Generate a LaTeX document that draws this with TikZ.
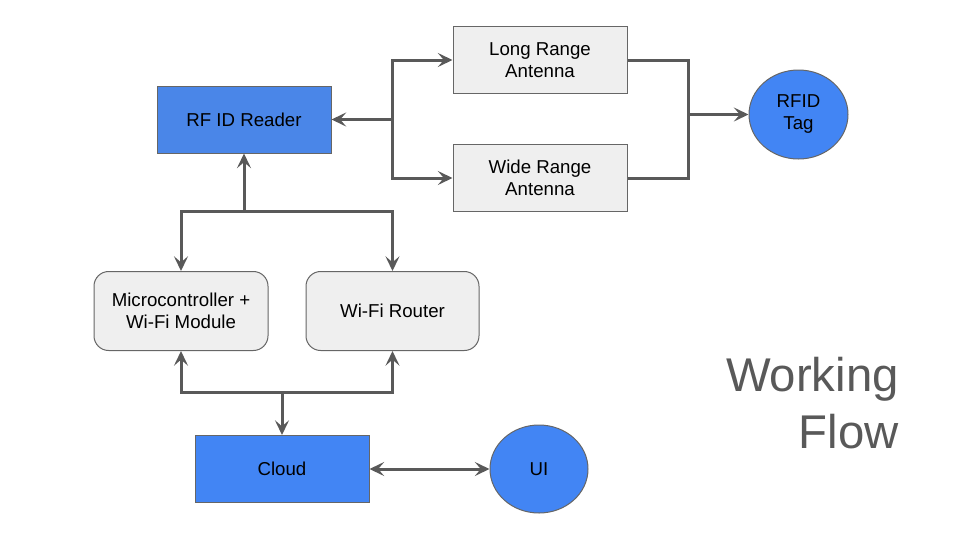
\documentclass[tikz,border=0pt]{standalone}
\usepackage{fontspec}
\setmainfont{Liberation Sans}
\usetikzlibrary{arrows.meta,shapes.geometric}
\definecolor{lineg}{HTML}{595959}
\definecolor{blueA}{HTML}{4A86E8}
\definecolor{blueB}{HTML}{4285F4}
\definecolor{lightg}{HTML}{EFEFEF}
\definecolor{edgeg}{HTML}{666666}
\tikzset{
  box/.style={draw=edgeg, line width=0.75pt, minimum width=130.5pt, minimum height=50.25pt, align=center, font=\fontsize{14}{16.5}\selectfont, inner sep=0pt},
  bluebox/.style={box, fill=blueA},
  greybox/.style={box, fill=lightg},
  roundbox/.style={box, fill=lightg, rounded corners=11pt, minimum height=59.25pt},
  blob/.style={ellipse, draw=edgeg, line width=0.75pt, fill=blueB, align=center, font=\fontsize{14}{16.5}\selectfont, inner sep=0pt},
  wire/.style={draw=lineg, line width=2.25pt},
  conn/.style={wire, -{Stealth[length=11pt, width=10.5pt, inset=4.5pt]}},
  conn2/.style={wire, {Stealth[length=11pt, width=10.5pt, inset=4.5pt]}-{Stealth[length=11pt, width=10.5pt, inset=4.5pt]}},
}
\begin{document}
\begin{tikzpicture}[x=0.75pt,y=-0.75pt]
\useasboundingbox (0,0) rectangle (960,540);
\node[bluebox] (reader) at (244,119.5) {RF ID Reader};
\node[greybox] (long) at (540,60) {Long Range\\Antenna};
\node[greybox] (wide) at (540,178) {Wide Range\\Antenna};
\node[blob, minimum width=74.25pt, minimum height=66.75pt] (tag) at (798.5,114.5) {RFID\\Tag};
\node[roundbox] (micro) at (181,311) {Microcontroller +\\Wi-Fi Module};
\node[roundbox, minimum width=129.75pt] (router) at (392.5,311) {Wi-Fi Router};
\node[box, fill=blueB] (cloud) at (282,469) {Cloud};
\node[blob, minimum width=73.5pt, minimum height=66pt] (ui) at (539,469) {UI};
\node[anchor=north east, align=right, text=lineg, font=\fontsize{35.5}{43}\selectfont, inner sep=0pt] (title) at (899,357) {Working\\Flow};

\coordinate (j1) at (392,119.5);
\coordinate (j2) at (688,114.5);
\coordinate (j3) at (244,211);
\coordinate (j4) at (282,392);

\draw[conn] (j1) -- (reader.east);
\draw[conn] (j1) |- (long.west);
\draw[conn] (j1) |- (wide.west);
\draw[wire] (long.east) -| (j2);
\draw[wire] (wide.east) -| (j2);
\draw[conn] (j2) -- (tag.west);
\draw[conn] (j3) -- (reader.south);
\draw[conn] (j3) -| (micro.north);
\draw[conn] (j3) -| (router.north);
\draw[conn] (j4) -| (micro.south);
\draw[conn] (j4) -| (router.south);
\draw[conn] (j4) -- (cloud.north);
\draw[conn2] (cloud.east) -- (ui.west);
\end{tikzpicture}
\end{document}
